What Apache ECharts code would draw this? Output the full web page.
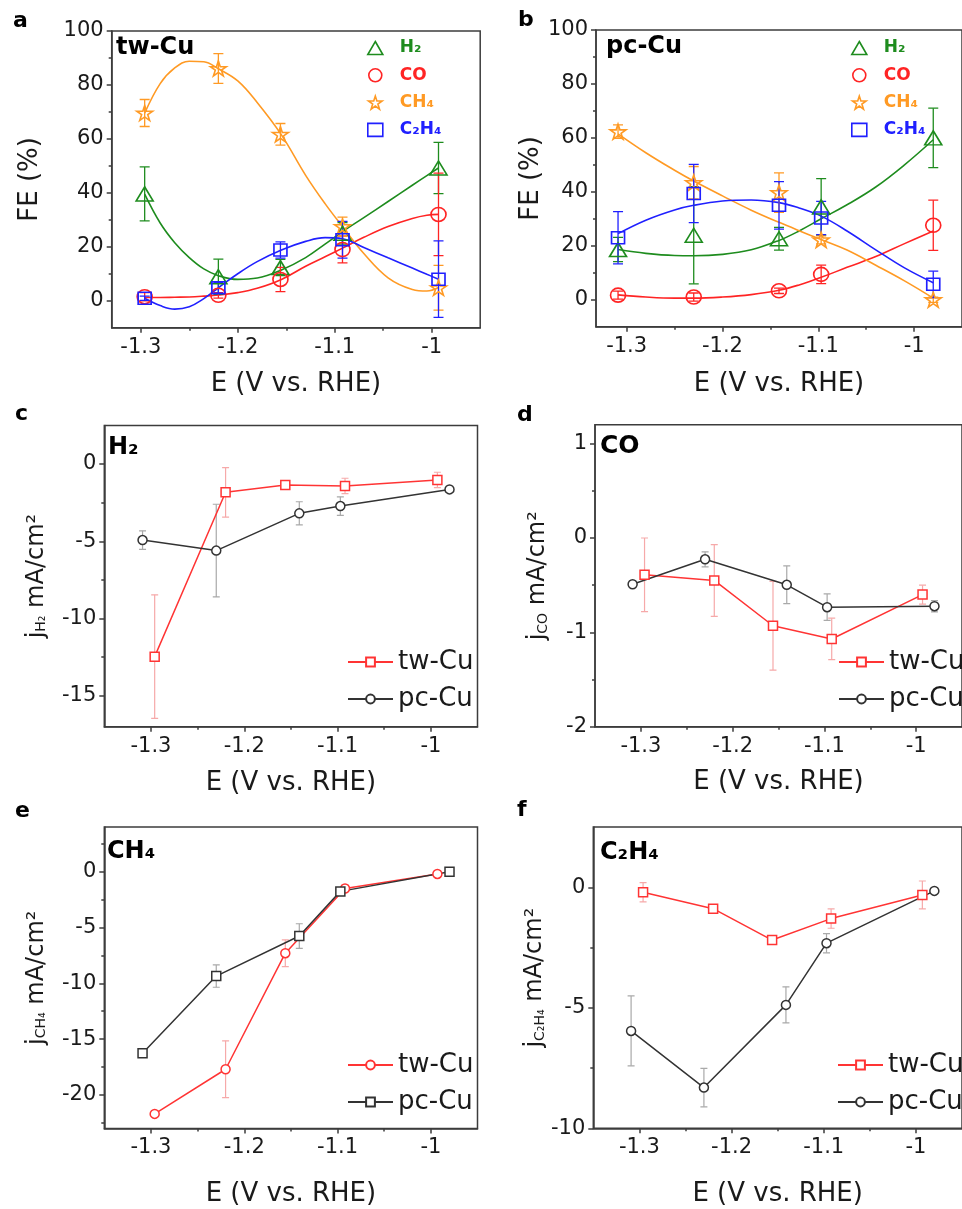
<!DOCTYPE html>
<html><head><meta charset="utf-8">
<script src="https://cdn.jsdelivr.net/npm/echarts@6/dist/echarts.min.js"></script>
<style>html,body{margin:0;padding:0;background:#fff}#c{width:962px;height:1209px}</style>
</head><body><div id="c"></div>
<script>
// ---------- DATA ----------
const twX = [-1.296, -1.22, -1.156, -1.092, -0.993];
const pcX = [-1.309, -1.23, -1.141, -1.097, -0.98];
const xTicks = [-1.3, -1.2, -1.1, -1.0];
const xMinor = [-1.25, -1.15, -1.05];
const feTicks = [0, 20, 40, 60, 80, 100];
const feMinor = [10, 30, 50, 70, 90];

// panel a : tw-Cu Faradaic efficiency (%)
const aH2 = [39.6, 8.9, 12.3, 25.0, 49.2];     const aH2Err = [10, 6.5, 3, 4, 9.5];
const aCO = [1.5, 2.0, 7.9, 19.0, 32.0];       const aCOErr = [1.5, 1.0, 4.5, 5, 15.3];
const aCH4 = [69.6, 86.1, 61.7, 27.5, 4.8];    const aCH4Err = [5, 5.5, 4, 3.5, 8.3];
const aC2H4 = [0.9, 4.8, 18.8, 22.6, 8.0];     const aC2H4Err = [0.8, 2, 3, 6.8, 14.2];
// panel a fitted curves
const fitXa = [-1.296, -1.28, -1.265, -1.25, -1.235, -1.22, -1.2, -1.18, -1.155, -1.13, -1.11, -1.092, -1.07, -1.045, -1.02, -1.005, -0.993];
const fitAH2 = [39.5, 28.8, 21.5, 16, 11.8, 9.3, 7.9, 8.4, 11.4, 16, 21, 25.6, 30.8, 36.8, 42.8, 46.4, 49.2];
const fitACO = [1.2, 1.2, 1.3, 1.4, 1.7, 2.1, 3.0, 4.6, 7.9, 12.8, 16.3, 19.5, 23.5, 27.5, 30.5, 31.7, 32.0];
const fitACH4 = [69.5, 80.5, 86.3, 88.8, 88.6, 86, 81.5, 73.5, 61.5, 46.5, 36, 27.5, 17.5, 8.5, 4.2, 3.6, 4.9];
const fitAC2H4 = [0.9, -1.8, -3.1, -2.2, 0.8, 4.8, 10, 14.5, 18.8, 22, 23.4, 23, 19.7, 15.9, 12.1, 9.8, 8.0];

// panel b : pc-Cu Faradaic efficiency (%)
const bH2 = [18.6, 23.9, 22.6, 34.4, 60.0];    const bH2Err = [4.5, 18, 4.2, 10.5, 11];
const bCO = [1.7, 1.0, 3.3, 9.4, 27.6];        const bCOErr = [1.5, 1.5, 1.0, 3.4, 9.3];
const bCH4 = [62.3, 43.4, 39.7, 22.2, 0.0];    const bCH4Err = [2.5, 6, 7.3, 1.5, 1];
const bC2H4 = [23.0, 39.4, 35.0, 30.3, 5.7];   const bC2H4Err = [9.7, 10.8, 8.8, 6.2, 4.9];
const fitXb = [-1.309, -1.28, -1.25, -1.23, -1.2, -1.17, -1.141, -1.12, -1.097, -1.07, -1.04, -1.01, -0.98];
const fitBH2 = [18.6, 17.2, 16.4, 16.3, 16.8, 18.5, 22.0, 25.5, 30.0, 35.2, 41.8, 50.0, 59.3];
const fitBCO = [1.8, 1.0, 0.6, 0.6, 1.0, 1.9, 3.5, 5.5, 8.3, 12.0, 16.0, 20.8, 25.5];
const fitBCH4 = [61.5, 54.5, 48.0, 44.0, 38.5, 33.2, 28.7, 25.6, 22.3, 18.4, 12.8, 7.0, 0.6];
const fitBC2H4 = [24.5, 29.5, 33.3, 35.0, 36.6, 37.0, 36.0, 34.0, 31.0, 25.5, 18.5, 11.8, 6.3];

// panel c : j H2 (mA/cm2)
const cTw = [-12.46, -1.83, -1.36, -1.42, -1.03]; const cTwErr = [4.0, 1.6, 0.15, 0.5, 0.5];
const cPc = [-4.92, -5.6, -3.19, -2.72, -1.64];   const cPcErr = [0.6, 3.0, 0.75, 0.6, 0.1];
// panel d : j CO
const dTw = [-0.39, -0.45, -0.93, -1.07, -0.60];  const dTwErr = [0.39, 0.38, 0.47, 0.22, 0.1];
const dPc = [-0.49, -0.226, -0.496, -0.733, -0.723]; const dPcErr = [0.03, 0.08, 0.2, 0.14, 0.06];
// panel e : j CH4
const eTw = [-21.7, -17.7, -7.3, -1.5, -0.2];     const eTwErr = [0.2, 2.55, 1.2, 0.3, 0.1];
const ePc = [-16.27, -9.35, -5.76, -1.76, 0];     const ePcErr = [0.1, 1.0, 1.1, 0.3, 0.1];
// panel f : j C2H4
const fTw = [-0.21, -0.89, -2.19, -1.3, -0.32];   const fTwErr = [0.4, 0.1, 0.1, 0.4, 0.58];
const fPc = [-5.96, -8.31, -4.88, -2.32, -0.15];  const fPcErr = [1.45, 0.8, 0.75, 0.4, 0.05];

// ---------- STYLE ----------
const FONT = 'DejaVu Sans';
const AX = '#3c3c3c';
const GREEN = '#1e8c1e', RED = '#ff2424', ORANGE = '#ff9a24', BLUE = '#2020ff';
const RED2 = '#ff3434', BLACK = '#333333', RED_ERR = '#f6a9a9', GRAY_ERR = '#a9a9a9';
const STAR = 'path://M50,2 L61,36 L97,36 L68,57 L79,92 L50,71 L21,92 L32,57 L3,36 L39,36 Z';

const panels = [
  {left:111.7, top:31, width:368.5, height:296.7, xmin:-1.33, xmax:-0.95, ymin:-10, ymax:100, yT:feTicks, yM:feMinor, yName:'FE (%)', yGap:68, xGap:44},
  {left:596, top:30, width:370.5, height:296.7, xmin:-1.332, xmax:-0.95, ymin:-10, ymax:100, yT:feTicks, yM:feMinor, yName:'FE (%)', yGap:52, xGap:45},
  {left:104.3, top:425.4, width:373.2, height:301.4, xmin:-1.35, xmax:-0.95, ymin:-17, ymax:2.5, yT:[-15,-10,-5,0], yM:[-12.5,-7.5,-2.5], yName:'{j|j}{s|H₂}{n| mA/cm²}', yGap:56, xGap:43},
  {left:595, top:424.8, width:374.8, height:301.9, xmin:-1.35, xmax:-0.95, ymin:-2, ymax:1.2, yT:[-2,-1,0,1], yM:[-1.5,-0.5,0.5], yName:'{j|j}{s|CO}{n| mA/cm²}', yGap:45, xGap:43},
  {left:104.3, top:827.1, width:373.2, height:301.3, xmin:-1.35, xmax:-0.95, ymin:-23, ymax:4, yT:[-20,-15,-10,-5,0], yM:[-22.5,-17.5,-12.5,-7.5,-2.5,2.5], yName:'{j|j}{s|CH₄}{n| mA/cm²}', yGap:56, xGap:53},
  {left:593.3, top:827, width:372.8, height:301.3, xmin:-1.35, xmax:-0.95, ymin:-10, ymax:2.5, yT:[-10,-5,0], yM:[-7.5,-2.5], yName:'{j|j}{s|C₂H₄}{n| mA/cm²}', yGap:45, xGap:53}
];

const grids = [], xAxes = [], yAxes = [];
const lineSt = {color: AX, width: 1.5};
panels.forEach((p, i) => {
  grids.push({left:p.left, top:p.top, width:p.width, height:p.height, show:true, borderColor:AX, borderWidth:1.5, backgroundColor:'transparent', containLabel:false});
  xAxes.push({type:'value', gridIndex:i, min:p.xmin, max:p.xmax, position:'bottom',
    axisLine:{show:true, onZero:false, lineStyle:lineSt},
    axisTick:{show:true, length:5, customValues:xTicks, lineStyle:lineSt},
    axisLabel:{customValues:xTicks, fontFamily:FONT, fontSize:21, color:'#1a1a1a', margin:9,
      formatter: v => String(Math.round(v*10)/10)},
    splitLine:{show:false},
    name:'E (V vs. RHE)', nameLocation:'middle', nameGap:p.xGap,
    nameTextStyle:{fontFamily:FONT, fontSize:26, color:'#1a1a1a', verticalAlign:'top'}});
  yAxes.push({type:'value', gridIndex:i, min:p.ymin, max:p.ymax, position:'left',
    axisLine:{show:true, onZero:false, lineStyle:lineSt},
    axisTick:{show:true, length:5, customValues:p.yT, lineStyle:lineSt},
    axisLabel:{customValues:p.yT, fontFamily:FONT, fontSize:21, color:'#1a1a1a', margin:8},
    splitLine:{show:false},
    name:p.yName, nameLocation:'middle', nameGap:p.yGap,
    nameTextStyle:{fontFamily:FONT, fontSize:i<2?26:24, color:'#1a1a1a',
      rich:{j:{fontFamily:FONT, fontSize:24, color:'#1a1a1a'},
            s:{fontFamily:FONT, fontSize:14, color:'#1a1a1a', verticalAlign:'bottom'},
            n:{fontFamily:FONT, fontSize:24, color:'#1a1a1a'}}}});
});
// minor tick axes
panels.forEach((p, i) => {
  xAxes.push({type:'value', gridIndex:i, min:p.xmin, max:p.xmax, position:'bottom',
    axisLine:{show:false, onZero:false}, axisTick:{show:true, length:3, customValues:xMinor, lineStyle:lineSt},
    axisLabel:{show:false}, splitLine:{show:false}});
  yAxes.push({type:'value', gridIndex:i, min:p.ymin, max:p.ymax, position:'left',
    axisLine:{show:false, onZero:false}, axisTick:{show:true, length:3, customValues:p.yM, lineStyle:lineSt},
    axisLabel:{show:false}, splitLine:{show:false}});
});

function pairs(xs, ys) { return xs.map((x, k) => [x, ys[k]]); }
function errBars(gi, xs, ys, es, color, cap, z, w) {
  return {type:'custom', xAxisIndex:gi, yAxisIndex:gi, silent:true, z:z, clip:true,
    data: xs.map((x, k) => [x, ys[k] - es[k], ys[k] + es[k]]),
    encode:{x:0, y:[1,2]},
    renderItem: (params, api) => {
      const x = api.value(0);
      const a = api.coord([x, api.value(1)]), b = api.coord([x, api.value(2)]);
      const st = {stroke:color, lineWidth:w, fill:null};
      return {type:'group', children:[
        {type:'line', shape:{x1:a[0], y1:a[1], x2:b[0], y2:b[1]}, style:st},
        {type:'line', shape:{x1:a[0]-cap, y1:a[1], x2:a[0]+cap, y2:a[1]}, style:st},
        {type:'line', shape:{x1:b[0]-cap, y1:b[1], x2:b[0]+cap, y2:b[1]}, style:st}
      ]};
    }};
}
function fit(gi, xs, ys, color) {
  return {type:'line', name:'fit'+gi+color, xAxisIndex:gi, yAxisIndex:gi, data:pairs(xs, ys),
    smooth:0.4, symbol:'none', showSymbol:false, silent:true, z:2,
    lineStyle:{color:color, width:1.6}};
}
function marks(gi, name, xs, ys, symbol, size, color) {
  return {type:'scatter', name:name, xAxisIndex:gi, yAxisIndex:gi, data:pairs(xs, ys),
    symbol:symbol, symbolSize:size, z:4, silent:true,
    itemStyle:{color:'rgba(255,255,255,0)', borderColor:color, borderWidth:1.6, opacity:1}};
}
function jLine(gi, name, xs, ys, symbol, color) {
  return {type:'line', name:name, xAxisIndex:gi, yAxisIndex:gi, data:pairs(xs, ys),
    symbol:symbol, symbolSize:9, showSymbol:true, z:4, silent:true,
    lineStyle:{color:color, width:1.5},
    itemStyle:{color:'#ffffff', borderColor:color, borderWidth:1.5}};
}

const series = [];
// panel a
[[fitAH2, GREEN], [fitACO, RED], [fitACH4, ORANGE], [fitAC2H4, BLUE]].forEach(d => series.push(fit(0, fitXa, d[0], d[1])));
series.push(errBars(0, twX, aH2, aH2Err, GREEN, 5, 3, 1.3));
series.push(errBars(0, twX, aCO, aCOErr, RED, 5, 3, 1.3));
series.push(errBars(0, twX, aCH4, aCH4Err, ORANGE, 5, 3, 1.3));
series.push(errBars(0, twX, aC2H4, aC2H4Err, BLUE, 5, 3, 1.3));
series.push(marks(0, 'H₂#a', twX, aH2, 'triangle', [17,14], GREEN));
series.push(marks(0, 'CO#a', twX, aCO, 'circle', [15,14], RED));
series.push(marks(0, 'CH₄#a', twX, aCH4, STAR, [16,15], ORANGE));
series.push(marks(0, 'C₂H₄#a', twX, aC2H4, 'rect', [13,12], BLUE));
// panel b
[[fitBH2, GREEN], [fitBCO, RED], [fitBCH4, ORANGE], [fitBC2H4, BLUE]].forEach(d => series.push(fit(1, fitXb, d[0], d[1])));
series.push(errBars(1, pcX, bH2, bH2Err, GREEN, 5, 3, 1.3));
series.push(errBars(1, pcX, bCO, bCOErr, RED, 5, 3, 1.3));
series.push(errBars(1, pcX, bCH4, bCH4Err, ORANGE, 5, 3, 1.3));
series.push(errBars(1, pcX, bC2H4, bC2H4Err, BLUE, 5, 3, 1.3));
series.push(marks(1, 'H₂#b', pcX, bH2, 'triangle', [17,14], GREEN));
series.push(marks(1, 'CO#b', pcX, bCO, 'circle', [15,14], RED));
series.push(marks(1, 'CH₄#b', pcX, bCH4, STAR, [16,15], ORANGE));
series.push(marks(1, 'C₂H₄#b', pcX, bC2H4, 'rect', [13,12], BLUE));
// panels c-f
const jp = [
  [2, cTw, cTwErr, 'rect', cPc, cPcErr, 'circle', 'c'],
  [3, dTw, dTwErr, 'rect', dPc, dPcErr, 'circle', 'd'],
  [4, eTw, eTwErr, 'circle', ePc, ePcErr, 'rect', 'e'],
  [5, fTw, fTwErr, 'rect', fPc, fPcErr, 'circle', 'f']
];
jp.forEach(q => {
  series.push(errBars(q[0], twX, q[1], q[2], RED_ERR, 3.5, 1, 1.2));
  series.push(errBars(q[0], pcX, q[4], q[5], GRAY_ERR, 3.5, 1, 1.2));
  series.push(jLine(q[0], 'tw-Cu#'+q[7], twX, q[1], q[3], RED2));
  series.push(jLine(q[0], 'pc-Cu#'+q[7], pcX, q[4], q[6], BLACK));
});

function gasLegend(left, suffix) {
  const it = (n, icon, c) => ({name:n+suffix, icon:icon,
    itemStyle:{color:'rgba(255,255,255,0)', borderColor:c, borderWidth:1.6},
    textStyle:{color:c, rich:{g:{width:12, fontSize:17}, t:{color:c, fontFamily:FONT, fontWeight:'bold', fontSize:17}}}});
  return {orient:'vertical', left:left, top:32, itemWidth:15, itemHeight:13, itemGap:5.3,
    selectedMode:false,
    formatter: n => '{g| }{t|' + n.split('#')[0] + '}',
    textStyle:{fontFamily:FONT, fontWeight:'bold', fontSize:17, lineHeight:22},
    data:[it('H₂','triangle',GREEN), it('CO','circle',RED), it('CH₄',STAR,ORANGE), it('C₂H₄','rect',BLUE)]};
}
function jLegend(left, top, suffix) {
  return {orient:'vertical', left:left, top:top, itemWidth:45, itemHeight:11, itemGap:7,
    selectedMode:false, formatter: n => n.split('#')[0],
    textStyle:{fontFamily:FONT, fontSize:26, color:'#1a1a1a', lineHeight:30},
    data:['tw-Cu#'+suffix, 'pc-Cu#'+suffix]};
}

const txt = (x, y, s, size) => ({type:'text', x:x, y:y, silent:true,
  style:{text:s, font:'bold '+size+'px "DejaVu Sans"', fill:'#000', verticalAlign:'middle', align:'left'}});

const option = {
  animation:false,
  backgroundColor:'#ffffff',
  grid:grids, xAxis:xAxes, yAxis:yAxes, series:series,
  legend:[gasLegend(362, '#a'), gasLegend(846, '#b'),
          jLegend(342, 642, 'c'), jLegend(833, 642, 'd'), jLegend(342, 1045, 'e'), jLegend(832, 1045, 'f')],
  graphic:[
    txt(13, 21.5, 'a', 22), txt(518, 20.5, 'b', 22),
    txt(15, 414.5, 'c', 22), txt(517, 415.5, 'd', 22),
    txt(15, 811.5, 'e', 22), txt(517, 810.5, 'f', 22),
    txt(116, 47.5, 'tw-Cu', 24), txt(606, 46.5, 'pc-Cu', 24),
    txt(108, 448, 'H₂', 24), txt(600, 446.5, 'CO', 25),
    txt(107, 851.5, 'CH₄', 24), txt(600, 853, 'C₂H₄', 24)
  ]
};
const chart = echarts.init(document.getElementById('c'), null, {renderer:'canvas'});
chart.setOption(option);
</script>
</body></html>
